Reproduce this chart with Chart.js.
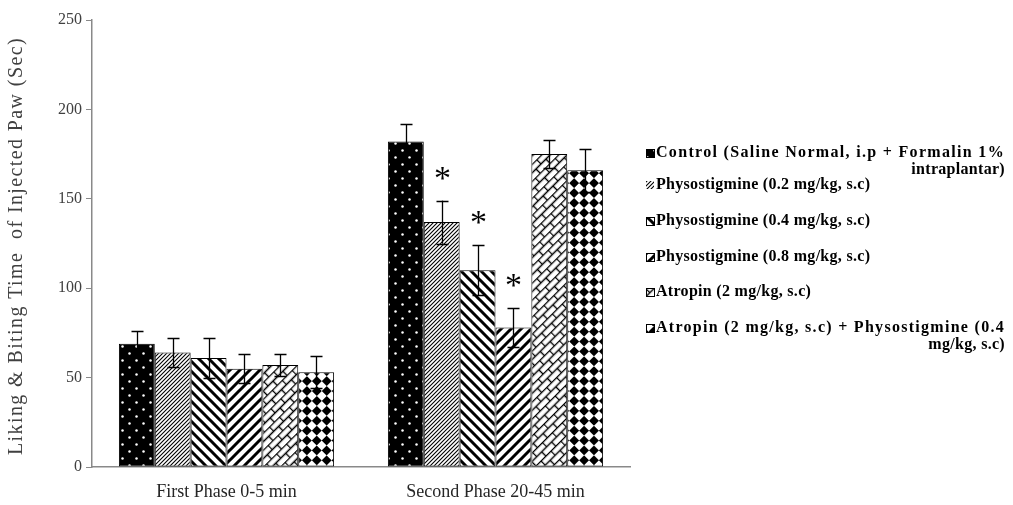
<!DOCTYPE html>
<html><head><meta charset="utf-8">
<script src="https://cdn.jsdelivr.net/npm/chart.js@4"></script>
<style>html,body{margin:0;padding:0;background:#fff}#wrap{width:1013px;height:505px;position:relative}</style>
</head><body><div id="wrap"><canvas id="c" width="1013" height="505"></canvas></div>
<script>
// ---- data ----
const categories = ['First Phase 0-5 min', 'Second Phase 20-45 min'];
const yTitle = 'Liking & Biting Time  of Injected Paw (Sec)';
const legendLines = [
  ['Control (Saline Normal, i.p + Formalin 1%', 'intraplantar)'],
  ['Physostigmine (0.2 mg/kg, s.c)'],
  ['Physostigmine (0.4 mg/kg, s.c)'],
  ['Physostigmine (0.8 mg/kg, s.c)'],
  ['Atropin (2 mg/kg, s.c)'],
  ['Atropin (2 mg/kg, s.c) + Physostigmine (0.4', 'mg/kg, s.c)']
];
const controlVals = [69, 182];
const phys02Vals = [64, 137];
const phys04Vals = [61, 110];
const phys08Vals = [55, 78];
const atropinVals = [57, 175];
const comboVals = [53, 166];
const controlErr = [7, 10];
const phys02Err = [8, 12];
const phys04Err = [11, 14];
const phys08Err = [8, 11];
const atropinErr = [6, 8];
const comboErr = [9, 12];
const controlSig = [false, false];
const phys02Sig = [false, true];
const phys04Sig = [false, true];
const phys08Sig = [false, true];
const atropinSig = [false, false];
const comboSig = [false, false];
const yTicks = [0, 50, 100, 150, 200, 250];

// ---- patterns ----
const mainCtx = document.getElementById('c').getContext('2d');
function makePattern(kind) {
  const c = document.createElement('canvas');
  const x = c.getContext('2d');
  let pat;
  if (kind === 'dots') {
    c.width = c.height = 14;
    x.fillStyle = '#000'; x.fillRect(0, 0, 14, 14);
    x.fillStyle = '#fff';
    x.beginPath(); x.arc(3.5, 3.5, 1.25, 0, Math.PI * 2); x.fill();
    x.beginPath(); x.arc(10.5, 10.5, 1.25, 0, Math.PI * 2); x.fill();
    pat = mainCtx.createPattern(c, 'repeat');
  } else if (kind === 'fine') {
    c.width = c.height = 4;
    x.fillStyle = '#fff'; x.fillRect(0, 0, 4, 4);
    x.strokeStyle = '#000'; x.lineWidth = 1.1;
    x.beginPath();
    x.moveTo(-1, 5); x.lineTo(5, -1);
    x.moveTo(-1, 1); x.lineTo(1, -1);
    x.moveTo(3, 5); x.lineTo(5, 3);
    x.stroke();
    pat = mainCtx.createPattern(c, 'repeat');
  } else if (kind === 'down' || kind === 'up') {
    c.width = c.height = 10;
    x.fillStyle = '#fff'; x.fillRect(0, 0, 10, 10);
    x.strokeStyle = '#000'; x.lineWidth = 3;
    x.beginPath();
    if (kind === 'down') {
      x.moveTo(-2, -2); x.lineTo(12, 12);
      x.moveTo(-2, 8); x.lineTo(2, 12);
      x.moveTo(8, -2); x.lineTo(12, 2);
    } else {
      x.moveTo(-2, 12); x.lineTo(12, -2);
      x.moveTo(-2, 2); x.lineTo(2, -2);
      x.moveTo(8, 12); x.lineTo(12, 8);
    }
    x.stroke();
    pat = mainCtx.createPattern(c, 'repeat');
  } else if (kind === 'brick') {
    c.width = 14; c.height = 12;
    x.fillStyle = '#fff'; x.fillRect(0, 0, 14, 12);
    x.strokeStyle = '#000'; x.lineWidth = 1.4;
    x.beginPath();
    x.moveTo(0, 0.5); x.lineTo(14, 0.5);
    x.moveTo(0, 6.5); x.lineTo(14, 6.5);
    x.moveTo(0.5, 0); x.lineTo(0.5, 6.5);
    x.moveTo(7.5, 6.5); x.lineTo(7.5, 12);
    x.stroke();
    pat = mainCtx.createPattern(c, 'repeat');
    pat.setTransform(new DOMMatrix().rotate(-45));
  } else if (kind === 'diamond') {
    c.width = c.height = 14;
    x.fillStyle = '#fff'; x.fillRect(0, 0, 14, 14);
    x.fillStyle = '#000';
    x.fillRect(0, 0, 7, 7); x.fillRect(7, 7, 7, 7);
    pat = mainCtx.createPattern(c, 'repeat');
    pat.setTransform(new DOMMatrix().rotate(45));
  }
  return pat;
}
const patternKinds = ['dots', 'fine', 'down', 'up', 'brick', 'diamond'];
const patterns = patternKinds.map(makePattern);

const valueSets = [controlVals, phys02Vals, phys04Vals, phys08Vals, atropinVals, comboVals];
const errSets = [controlErr, phys02Err, phys04Err, phys08Err, atropinErr, comboErr];
const sigSets = [controlSig, phys02Sig, phys04Sig, phys08Sig, atropinSig, comboSig];

const datasets = valueSets.map((vals, i) => ({
  label: legendLines[i].join(' '),
  data: vals,
  backgroundColor: patterns[i],
  borderColor: '#000',
  borderWidth: 1,
  borderSkipped: false,
  barPercentage: 1,
  categoryPercentage: 0.8
}));

// ---- plugins ----
const errorBars = {
  id: 'errorBars',
  afterDatasetsDraw(chart) {
    const ctx = chart.ctx, y = chart.scales.y;
    ctx.save();
    ctx.strokeStyle = '#000'; ctx.lineWidth = 1.3;
    chart.data.datasets.forEach((ds, i) => {
      const meta = chart.getDatasetMeta(i);
      meta.data.forEach((bar, j) => {
        const v = ds.data[j], e = errSets[i][j];
        const top = y.getPixelForValue(v + e), bot = y.getPixelForValue(v - e);
        const bx = Math.round(bar.x) + 0.5;
        ctx.beginPath();
        ctx.moveTo(bx, top); ctx.lineTo(bx, bot);
        ctx.moveTo(bx - 6, Math.round(top) + 0.5); ctx.lineTo(bx + 6, Math.round(top) + 0.5);
        ctx.moveTo(bx - 6, Math.round(bot) + 0.5); ctx.lineTo(bx + 6, Math.round(bot) + 0.5);
        ctx.stroke();
        if (sigSets[i][j]) {
          ctx.fillStyle = '#000';
          ctx.font = '34px "Liberation Serif"';
          ctx.textAlign = 'center';
          ctx.textBaseline = 'alphabetic';
          ctx.fillText('*', bx, top - 12);
        }
      });
    });
    ctx.restore();
    // x-axis labels (drawn after datasets, z:1) get slight letter spacing
    ctx.letterSpacing = '1.5px';
  }
};

function fitText(ctx, t, x, y, width) {
  ctx.letterSpacing = '0px';
  const w = ctx.measureText(t).width;
  ctx.letterSpacing = Math.max(0, (width - w) / t.length) + 'px';
  ctx.fillText(t, x, y);
  ctx.letterSpacing = '0px';
}

const sideLegend = {
  id: 'sideLegend',
  afterDraw(chart) {
    const ctx = chart.ctx;
    ctx.letterSpacing = '0px';
    // y-axis title
    ctx.save();
    ctx.translate(17, 246);
    ctx.rotate(-Math.PI / 2);
    ctx.font = '20px "Liberation Serif"';
    ctx.fillStyle = '#404040';
    ctx.textAlign = 'left';
    ctx.textBaseline = 'middle';
    fitText(ctx, yTitle, -209, 0, 418);
    ctx.restore();

    const boxX = 646, textX = 656, right = 1005, lineH = 17;
    const rowsY = [153, 185, 221, 257, 292, 328];
    ctx.save();
    ctx.font = 'bold 16px "Liberation Serif"';
    ctx.textBaseline = 'middle';
    legendLines.forEach((lines, i) => {
      const y0 = rowsY[i];
      ctx.fillStyle = patterns[i];
      ctx.fillRect(boxX, y0 - 4, 8, 8);
      if (i !== 1) {
        ctx.strokeStyle = '#000'; ctx.lineWidth = 1;
        ctx.strokeRect(boxX + 0.5, y0 - 3.5, 8, 8);
      }
      ctx.fillStyle = '#000';
      lines.forEach((t, k) => {
        const y = y0 + k * lineH;
        if (k === 0) {
          ctx.textAlign = 'left';
          if (lines.length > 1) {
            fitText(ctx, t, textX, y, right - textX);
          } else {
            ctx.letterSpacing = '0.3px';
            ctx.fillText(t, textX, y);
            ctx.letterSpacing = '0px';
          }
        } else {
          ctx.textAlign = 'right';
          ctx.letterSpacing = '0.3px';
          ctx.fillText(t, right, y);
          ctx.letterSpacing = '0px';
        }
      });
    });
    ctx.restore();
  }
};

new Chart(document.getElementById('c'), {
  type: 'bar',
  data: { labels: categories, datasets },
  options: {
    responsive: false,
    animation: false,
    devicePixelRatio: 1,
    layout: { padding: { left: 0, top: 20, right: 383, bottom: 0 } },
    plugins: { legend: { display: false }, tooltip: { enabled: false } },
    scales: {
      x: {
        z: 1,
        grid: { display: false, drawTicks: false },
        border: { display: true, color: '#898989', width: 1.5 },
        ticks: { color: '#262626', font: { family: 'Liberation Serif', size: 18 }, padding: 14 },
        afterFit(s) { s.height = 38; }
      },
      y: {
        min: 0, max: 250,
        afterBuildTicks(s) { s.ticks = yTicks.map(v => ({ value: v })); },
        grid: { display: true, drawOnChartArea: false, drawTicks: true, tickLength: 6, color: '#898989' },
        border: { display: true, color: '#898989', width: 1.5 },
        ticks: { color: '#404040', font: { family: 'Liberation Serif', size: 16 }, padding: 4 },
        title: { display: false },
        afterFit(s) { s.width = 92; }
      }
    }
  },
  plugins: [errorBars, sideLegend]
});
</script>
</body></html>
